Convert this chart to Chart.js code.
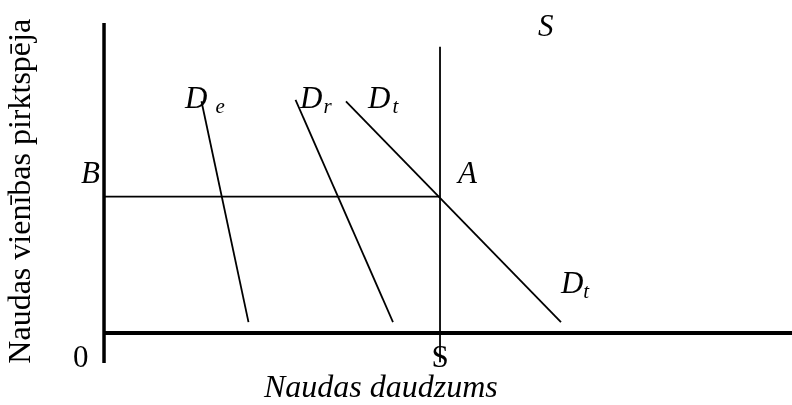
<!DOCTYPE html>
<html>
<head>
<meta charset="utf-8">
<script src="https://cdn.jsdelivr.net/npm/chart.js@4"></script>
<style>
  body { margin: 0; background: #fff; }
  #moneyChart { display: block; }
</style>
</head>
<body>
<canvas id="moneyChart" width="792" height="405"></canvas>
<script>
// money quantity (x) vs purchasing power of money unit (y), abstract units
var supplyLine = [{ x: 5, y: -1.07 }, { x: 5, y: 10.5 }];
var equilibriumLine = [{ x: 0, y: 5 }, { x: 5, y: 5 }];
var demandE = [{ x: 1.45, y: 8.5 }, { x: 2.15, y: 0.4 }];
var demandR = [{ x: 2.85, y: 8.55 }, { x: 4.3, y: 0.4 }];
var demandT = [{ x: 3.6, y: 8.5 }, { x: 6.8, y: 0.4 }];
var axisY = [{ x: 0, y: -1.1 }, { x: 0, y: 11.37 }];
var axisX = [{ x: 0, y: 0 }, { x: 10.3, y: 0 }];

var serif = "'Liberation Serif', 'Times New Roman', serif";

// text labels
var chartLabels = [
  { text: "S", x: 6.46, y: 10.9, italic: true },
  { text: "D", sub: "e", gap: 8, x: 1.205, y: 8.25, italic: true },
  { text: "D", sub: "r", gap: 1, x: 2.917, y: 8.25, italic: true },
  { text: "D", sub: "t", gap: 2, x: 3.929, y: 8.25, italic: true },
  { text: "B", x: -0.342, y: 5.5, italic: true },
  { text: "A", x: 5.268, y: 5.5, italic: true },
  { text: "D", sub: "t", gap: 0, x: 6.8, y: 1.467, italic: true },
  { text: "0", x: -0.461, y: -1.247, italic: false },
  { text: "S", x: 5, y: -1.247, italic: false, center: true }
];

var labelPlugin = {
  id: "labels",
  afterDraw: function (chart) {
    var ctx = chart.ctx;
    var sx = chart.scales.x, sy = chart.scales.y;
    ctx.save();
    ctx.fillStyle = "#000";
    ctx.textBaseline = "alphabetic";
    chartLabels.forEach(function (l) {
      var px = sx.getPixelForValue(l.x);
      var py = sy.getPixelForValue(l.y);
      ctx.font = (l.italic ? "italic " : "") + "31px " + serif;
      ctx.textAlign = l.center ? "center" : "left";
      ctx.fillText(l.text, px, py);
      if (l.sub) {
        var w = ctx.measureText(l.text).width;
        ctx.font = "italic 21px " + serif;
        ctx.textAlign = "left";
        ctx.fillText(l.sub, px + w + l.gap, py + 5);
      }
    });
    // axis titles
    ctx.font = "italic 32px " + serif;
    ctx.textAlign = "center";
    ctx.fillText("Naudas daudzums", sx.getPixelForValue(4.12), sy.getPixelForValue(-2.348));
    ctx.translate(sx.getPixelForValue(-1.22), sy.getPixelForValue(5.2));
    ctx.rotate(-Math.PI / 2);
    ctx.font = "32px " + serif;
    ctx.textBaseline = "middle";
    ctx.fillText("Naudas vienības pirktspēja", 0, 0);
    ctx.restore();
  }
};

function line(data, width) {
  return {
    data: data,
    showLine: true,
    borderColor: "#000",
    borderWidth: width,
    pointRadius: 0,
    fill: false
  };
}

new Chart(document.getElementById("moneyChart"), {
  type: "scatter",
  data: {
    datasets: [
      line(axisY, 3.5),
      line(axisX, 4),
      line(supplyLine, 1.8),
      line(equilibriumLine, 1.8),
      line(demandE, 1.8),
      line(demandR, 1.8),
      line(demandT, 1.8)
    ]
  },
  options: {
    responsive: false,
    animation: false,
    layout: { padding: 0 },
    plugins: {
      legend: { display: false },
      tooltip: { enabled: false }
    },
    scales: {
      x: { type: "linear", display: false, min: -1.548, max: 10.238 },
      y: { type: "linear", display: false, min: -2.641, max: 12.216 }
    }
  },
  plugins: [labelPlugin]
});
</script>
</body>
</html>
